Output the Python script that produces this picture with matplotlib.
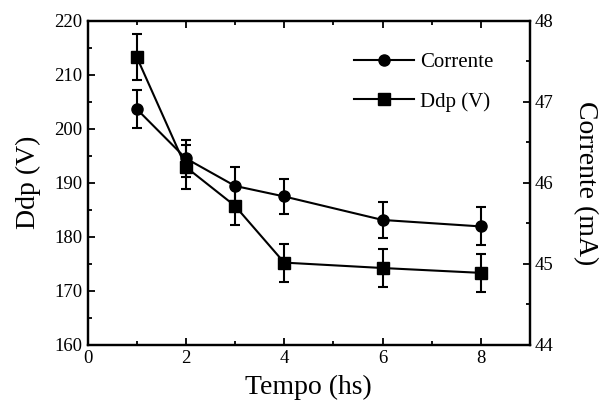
import numpy as np
import matplotlib
matplotlib.use("Agg")
import matplotlib.pyplot as plt
from matplotlib.ticker import MultipleLocator

plt.rcParams['font.family'] = ['Liberation Serif', 'DejaVu Serif']

tempo = [1, 2, 3, 4, 6, 8]
ddp = [213.3, 192.9, 185.7, 175.2, 174.2, 173.3]
ddp_err = [4.3, 4.0, 3.5, 3.5, 3.5, 3.5]
corrente = [46.91, 46.30, 45.96, 45.83, 45.54, 45.46]
corrente_err = [0.235, 0.225, 0.23, 0.22, 0.22, 0.235]

fig = plt.figure(figsize=(6.01, 4.03), dpi=100)
ax = fig.add_axes([0.1456, 0.1447, 0.7364, 0.8039])
ax2 = ax.twinx()

# Ddp on left axis
l2 = ax.errorbar(tempo, ddp, yerr=ddp_err, color='black', marker='s', markersize=8,
                 linewidth=1.5, elinewidth=1.5, capsize=3.5, capthick=1.5)
# corrente on right axis
l1 = ax2.errorbar(tempo, corrente, yerr=corrente_err, color='black', marker='o', markersize=8,
                  linewidth=1.5, elinewidth=1.5, capsize=3.5, capthick=1.5)

ax.set_xlim(0, 9)
ax.set_ylim(160, 220)
ax2.set_ylim(44, 48)

ax.xaxis.set_major_locator(MultipleLocator(2))
ax.xaxis.set_minor_locator(MultipleLocator(1))
ax.yaxis.set_major_locator(MultipleLocator(10))
ax.yaxis.set_minor_locator(MultipleLocator(5))
ax2.yaxis.set_major_locator(MultipleLocator(1))
ax2.yaxis.set_minor_locator(MultipleLocator(0.5))

ax.tick_params(which='both', direction='in', top=True, right=False, labelsize=13.5, width=1.3)
ax.tick_params(which='major', length=5)
ax.tick_params(which='minor', length=3)
ax2.tick_params(which='both', direction='in', labelsize=13.5, width=1.3)
ax2.tick_params(which='major', length=5)
ax2.tick_params(which='minor', length=3)

for a in (ax, ax2):
    for s in a.spines.values():
        s.set_linewidth(1.6)

ax.set_xlabel('Tempo (hs)', fontsize=20, labelpad=6)
ax.set_ylabel('Ddp (V)', fontsize=20, labelpad=10)
ax2.set_ylabel('Corrente (mA)', fontsize=20, rotation=270, labelpad=32)

leg = ax2.legend([l1[0], l2[0]], ['Corrente', 'Ddp (V)'], loc='upper right',
                 bbox_to_anchor=(0.96, 0.96), frameon=False, fontsize=15,
                 handlelength=2.9, handletextpad=0.3, labelspacing=0.95)

fig.savefig('out.png', dpi=100)
